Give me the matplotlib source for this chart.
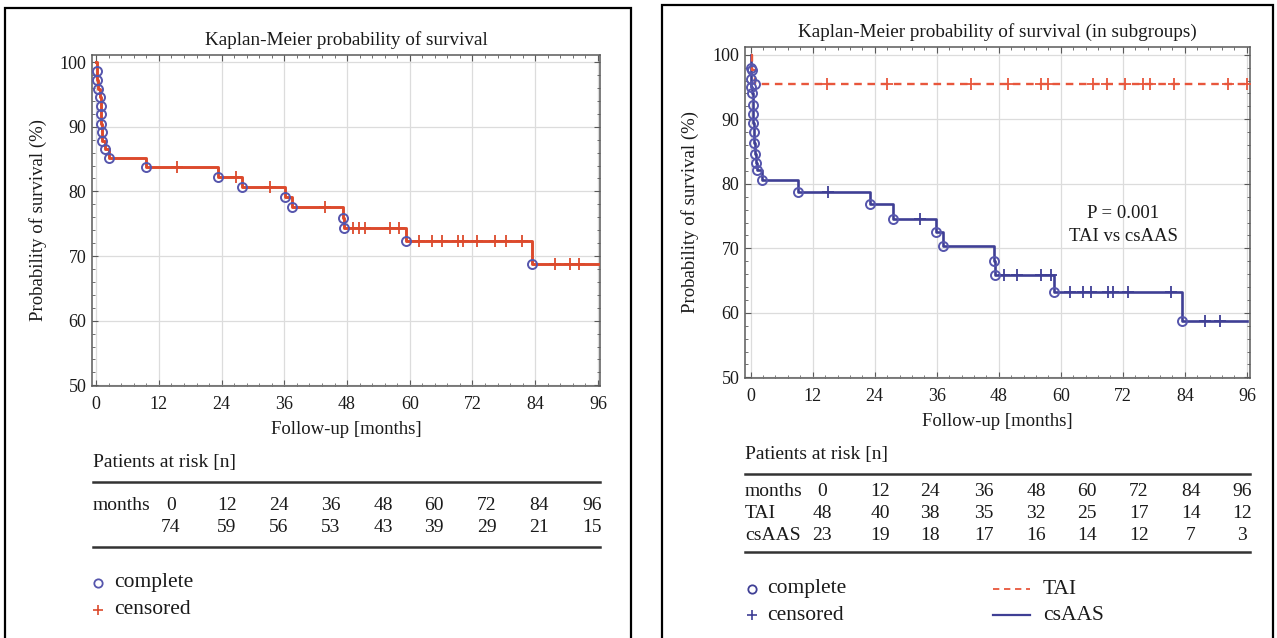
import numpy as np
import matplotlib
matplotlib.use("Agg")
import matplotlib.pyplot as plt
from matplotlib.lines import Line2D
from matplotlib.patches import Rectangle
from matplotlib.ticker import AutoMinorLocator

plt.rcParams['font.family'] = ['Liberation Serif', 'DejaVu Serif']

# ---------------- data ----------------
x_ticks = [0, 12, 24, 36, 48, 60, 72, 84, 96]
y_ticks = [50, 60, 70, 80, 90, 100]
follow_end = 96

# whole cohort
all_event_months = [0.1, 0.15, 0.3, 0.75, 0.85, 0.95, 1.0, 1.1, 1.2, 1.6, 2.4,
                    9.5, 23.4, 27.9, 36.2, 37.4, 47.2, 47.4, 59.3, 83.3]
all_event_surv = [98.6, 97.3, 95.9, 94.6, 93.2, 91.9, 90.5, 89.2, 87.8, 86.5, 85.1,
                  83.7, 82.2, 80.7, 79.1, 77.6, 75.9, 74.3, 72.4, 68.8]
all_censor_months = [15.4, 26.7, 33.3, 43.7, 49.2, 50.3, 51.5, 56.2, 58.0, 61.8,
                     64.2, 66.1, 69.3, 70.1, 72.8, 76.3, 78.4, 81.4, 87.8, 90.6, 92.4]

# subgroups
tai_event_months = [0.3, 0.8]
tai_event_surv = [97.7, 95.4]
tai_censor_months = [14.8, 26.4, 42.6, 49.7, 56.2, 57.5, 66.2, 69.0, 72.4, 75.9,
                     77.2, 81.8, 92.4, 96.0]

csaas_event_months = [0.05, 0.1, 0.15, 0.2, 0.4, 0.45, 0.5, 0.6, 0.7, 0.9, 1.1, 1.3,
                      2.1, 9.2, 23.0, 27.5, 35.9, 37.2, 47.0, 47.2, 58.7, 83.4]
csaas_event_surv = [98.0, 96.3, 95.0, 94.0, 92.2, 90.8, 89.4, 88.0, 86.3, 84.6, 83.2,
                    82.2, 80.6, 78.7, 76.8, 74.5, 72.5, 70.3, 68.0, 65.8, 63.2, 58.8]
csaas_censor_months = [15.0, 32.8, 49.0, 51.5, 56.2, 58.1, 61.7, 64.3, 65.9, 69.1,
                       70.1, 73.0, 81.4, 87.9, 90.8]

risk_months = [0, 12, 24, 36, 48, 60, 72, 84, 96]
all_at_risk = [74, 59, 56, 53, 43, 39, 29, 21, 15]
tai_at_risk = [48, 40, 38, 35, 32, 25, 17, 14, 12]
csaas_at_risk = [23, 19, 18, 17, 16, 14, 12, 7, 3]

# ---------------- style ----------------
RED = '#dc4a2c'
RED_DASH = '#e8563c'
BLUE_LINE = '#3f3f95'
CIRCLE = '#5656ad'
GRID = '#dcdcdc'
SPINE = '#5a5a5a'
TXT = '#1a1a1a'

FS_TICK = 13
FS_LAB = 13.5
FS_TITLE = 13.8
FS_TAB = 14
FS_LEG = 15.5

W, H = 1277, 638
fig = plt.figure(figsize=(W / 100, H / 100), dpi=100)


def fx(x):
    return x / W


def fy(y):
    return 1 - y / H


def make_axes(x0, y0, x1, y1):
    ax = fig.add_axes([fx(x0), fy(y1), fx(x1) - fx(x0), fy(y0) - fy(y1)])
    ax.set_xticks(x_ticks)
    ax.set_yticks(y_ticks)
    ax.xaxis.set_minor_locator(AutoMinorLocator(5))
    ax.yaxis.set_minor_locator(AutoMinorLocator(5))
    ax.tick_params(which='both', direction='in', top=True, right=True,
                   colors=SPINE, labelcolor=TXT, labelsize=FS_TICK)
    ax.tick_params(which='major', length=4, width=0.8)
    ax.tick_params(which='minor', length=2, width=0.6)
    ax.tick_params(axis='x', pad=7)
    ax.tick_params(axis='y', pad=4)
    ax.grid(True, which='major', color=GRID, lw=0.9)
    ax.set_axisbelow(True)
    for s in ax.spines.values():
        s.set_color(SPINE)
        s.set_linewidth(1.1)
    return ax


def km(ax, ev_t, ev_s, cens_t, color, lw, dashes=None):
    ev_t = np.asarray(ev_t, float)
    ev_s = np.asarray(ev_s, float)
    t = np.r_[0.0, ev_t, follow_end]
    s = np.r_[100.0, ev_s, ev_s[-1]]
    line, = ax.step(t, s, where='post', color=color, lw=lw, zorder=3)
    if dashes is not None:
        line.set_dashes(dashes)
    ax.plot(ev_t, ev_s, 'o', mfc='none', mec=CIRCLE, ms=6.5, mew=1.4, zorder=5)
    idx = np.searchsorted(ev_t, np.asarray(cens_t, float), side='right')
    s_c = np.r_[100.0, ev_s][idx]
    ax.plot(cens_t, s_c, '+', color=color, ms=8, mew=1.3, zorder=4)


# panel frames
fig.add_artist(Rectangle((fx(5), fy(641)), fx(631) - fx(5), fy(8) - fy(641),
                         transform=fig.transFigure, fill=False, ec='black', lw=1.6))
fig.add_artist(Rectangle((fx(662), fy(641)), fx(1273) - fx(662), fy(5) - fy(641),
                         transform=fig.transFigure, fill=False, ec='black', lw=1.6))

# ---------------- left panel ----------------
axL = make_axes(92, 55, 600, 386)
km(axL, all_event_months, all_event_surv, all_censor_months, RED, 2.1)
axL.set_xlim(-0.8, 96.4)
axL.set_ylim(49.9, 101.1)
fig.text(fx(346), fy(40), 'Kaplan-Meier probability of survival', ha='center', va='center',
         fontsize=FS_TITLE, color=TXT)
fig.text(fx(38), fy(220), 'Probability of survival (%)', rotation=90, ha='center', va='center',
         fontsize=FS_LAB, color=TXT)
fig.text(fx(346), fy(430), 'Follow-up [months]', ha='center', va='center', fontsize=FS_LAB, color=TXT)

# left table
fig.text(fx(93), fy(463), 'Patients at risk [n]', ha='left', va='center', fontsize=FS_TAB, color=TXT)
for yy in (482, 547):
    fig.add_artist(Line2D([fx(93), fx(600)], [fy(yy), fy(yy)], transform=fig.transFigure,
                          color='#333333', lw=1.8))
left_cols = [171, 227, 279, 331, 383, 434, 487, 539, 592]
fig.text(fx(93), fy(506), 'months', ha='left', va='center', fontsize=FS_TAB, color=TXT)
for cx, m, n in zip(left_cols, risk_months, all_at_risk):
    fig.text(fx(cx), fy(506), str(m), ha='center', va='center', fontsize=FS_TAB, color=TXT)
    fig.text(fx(cx), fy(527), str(n), ha='center', va='center', fontsize=FS_TAB, color=TXT)

# left legend
fig.add_artist(Line2D([fx(98)], [fy(583)], transform=fig.transFigure, marker='o', ms=6,
                      mfc='none', mec=CIRCLE, mew=1.3, ls='none'))
fig.text(fx(114), fy(583), 'complete', ha='left', va='center', fontsize=FS_LEG, color=TXT)
fig.add_artist(Line2D([fx(98)], [fy(610)], transform=fig.transFigure, marker='+', ms=7,
                      color=RED, mew=1.2, ls='none'))
fig.text(fx(114), fy(610), 'censored', ha='left', va='center', fontsize=FS_LEG, color=TXT)

# ---------------- right panel ----------------
axR = make_axes(745, 47, 1250, 378)
km(axR, csaas_event_months, csaas_event_surv, csaas_censor_months, BLUE_LINE, 1.9)
km(axR, tai_event_months, tai_event_surv, tai_censor_months, RED_DASH, 1.7, dashes=(3.2, 2.4))
axR.set_xlim(-1.1, 96.6)
axR.set_ylim(49.9, 101.2)
fig.text(fx(997), fy(32), 'Kaplan-Meier probability of survival (in subgroups)', ha='center',
         va='center', fontsize=FS_TITLE, color=TXT)
fig.text(fx(690), fy(212), 'Probability of survival (%)', rotation=90, ha='center', va='center',
         fontsize=FS_LAB, color=TXT)
fig.text(fx(997), fy(421), 'Follow-up [months]', ha='center', va='center', fontsize=FS_LAB, color=TXT)
axR.text(0.749, 0.462, 'P = 0.001\nTAI vs csAAS', transform=axR.transAxes, ha='center', va='center',
         fontsize=FS_LAB, linespacing=1.45, color=TXT)

# right table
fig.text(fx(745), fy(455), 'Patients at risk [n]', ha='left', va='center', fontsize=FS_TAB, color=TXT)
for yy in (474, 552):
    fig.add_artist(Line2D([fx(745), fx(1250)], [fy(yy), fy(yy)], transform=fig.transFigure,
                          color='#333333', lw=1.8))
right_cols = [822, 880, 930, 984, 1036, 1087, 1139, 1191, 1242]
for label, vals, yy in (('months', risk_months, 492), ('TAI', tai_at_risk, 514), ('csAAS', csaas_at_risk, 535)):
    fig.text(fx(745), fy(yy), label, ha='left', va='center', fontsize=FS_TAB, color=TXT)
    for cx, v in zip(right_cols, vals):
        fig.text(fx(cx), fy(yy), str(v), ha='center', va='center', fontsize=FS_TAB, color=TXT)

# right legend
fig.add_artist(Line2D([fx(752)], [fy(589)], transform=fig.transFigure, marker='o', ms=6,
                      mfc='none', mec=BLUE_LINE, mew=1.3, ls='none'))
fig.text(fx(767), fy(589), 'complete', ha='left', va='center', fontsize=FS_LEG, color=TXT)
fig.add_artist(Line2D([fx(752)], [fy(615)], transform=fig.transFigure, marker='+', ms=7,
                      color=BLUE_LINE, mew=1.2, ls='none'))
fig.text(fx(767), fy(615), 'censored', ha='left', va='center', fontsize=FS_LEG, color=TXT)
tai_leg = Line2D([fx(993), fx(1030)], [fy(589), fy(589)], transform=fig.transFigure,
                 color=RED_DASH, lw=1.3)
tai_leg.set_dashes((3.5, 2.6))
fig.add_artist(tai_leg)
fig.text(fx(1043), fy(589), 'TAI', ha='left', va='center', fontsize=FS_LEG, color=TXT)
fig.add_artist(Line2D([fx(993), fx(1030)], [fy(615), fy(615)], transform=fig.transFigure,
                      color=BLUE_LINE, lw=1.6))
fig.text(fx(1043), fy(615), 'csAAS', ha='left', va='center', fontsize=FS_LEG, color=TXT)

fig.savefig('out.png', dpi=100, facecolor='white')
